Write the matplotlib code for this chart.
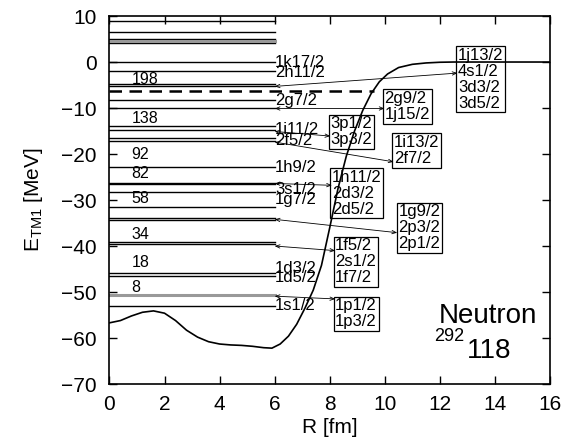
import numpy as np
import matplotlib
matplotlib.use("Agg")
from matplotlib import pyplot as plt

plt.rcParams['font.family'] = ['Liberation Sans', 'DejaVu Sans']
plt.rcParams['mathtext.fontset'] = 'custom'
plt.rcParams['mathtext.rm'] = 'Liberation Sans'
plt.rcParams['mathtext.it'] = 'Liberation Sans:italic'

# single-particle levels (MeV), drawn from R=0 to R=6
levels = [8.9, 6.5, 5.1, 4.1, 0.1, -1.9, -4.7, -5.2, -8.2, -9.9, -14.0, -14.7,
          -16.5, -17.1, -22.9, -26.2, -26.6, -28.2, -31.5, -33.8, -34.4,
          -39.2, -39.6, -45.8, -46.5, -53.0]
gray_levels = [4.6, -50.7]
fermi = -6.4

level_names = ['1k17/2', '2h11/2', '2g7/2', '1i11/2', '2f5/2', '1h9/2',
               '3s1/2', '1g7/2', '1d3/2', '1d5/2', '1s1/2']
level_name_E = [0.0, -2.2, -8.3, -14.6, -17.0, -22.9, -27.7, -29.8, -44.8, -46.8, -53.0]

magic = ['198', '138', '92', '82', '58', '34', '18', '8']
magic_E = [-3.8, -12.2, -20.0, -24.2, -29.6, -37.6, -43.5, -49.1]

# potential curve
R = [0, 0.4, 0.8, 1.2, 1.6, 2.0, 2.4, 2.8, 3.2, 3.6, 4.0, 4.4, 4.8, 5.2, 5.6,
     5.9, 6.2, 6.5, 6.8, 7.1, 7.4, 7.7, 8.0, 8.3, 8.6, 8.9, 9.2, 9.5, 9.8,
     10.1, 10.5, 11.0, 11.5, 12.0, 12.5, 16]
V = [-56.7, -56.2, -55.2, -54.4, -54.1, -54.6, -56.2, -58.3, -59.8, -60.8,
     -61.3, -61.5, -61.6, -61.8, -62.1, -62.2, -61.3, -59.6, -57.0, -53.5,
     -49.6, -44.2, -36.0, -27.5, -20.5, -15.0, -10.5, -6.9, -4.3, -2.6, -1.2,
     -0.5, -0.2, -0.05, 0, 0]

# boxes of unbound / resonant states
box_texts = ['1j13/2\n4s1/2\n3d3/2\n3d5/2', '2g9/2\n1j15/2', '3p1/2\n3p3/2',
             '1i13/2\n2f7/2', '1h11/2\n2d3/2\n2d5/2', '1g9/2\n2p3/2\n2p1/2',
             '1f5/2\n2s1/2\n1f7/2', '1p1/2\n1p3/2']
box_xy = [(12.66, 3.1), (9.99, -6.3), (8.02, -11.8), (10.32, -15.9),
          (8.08, -23.4), (10.5, -30.9), (8.2, -38.3), (8.2, -51.4)]

# arrows: level energy at R=6 -> point on box edge
arrow_from = [-5.3, -10.1, -15.1, -17.4, -26.4, -34.2, -40.0, -50.9]
arrow_to = [(12.64, -2.4), (9.99, -10.1), (8.02, -16.1), (10.32, -21.7),
            (8.08, -26.8), (10.45, -37.1), (8.2, -41.0), (8.2, -51.5)]

fig = plt.figure(figsize=(5.79, 4.45), dpi=100)
ax = fig.add_axes([0.189, 0.137, 0.761, 0.827])

for e in levels:
    ax.plot([0, 6], [e, e], color='black', lw=1.0)
for e in gray_levels:
    ax.plot([0, 6], [e, e], color='#999999', lw=2.2)
ax.plot([0, 9.6], [fermi, fermi], color='black', lw=1.8, dashes=(5, 3))

ax.plot(R, V, color='black', lw=1.2)

for name, e in zip(level_names, level_name_E):
    ax.text(6.02, e, name, fontsize=12, ha='left', va='center')
for name, e in zip(magic, magic_E):
    ax.text(0.8, e, name, fontsize=11.5, ha='left', va='center')

for t, (x, y) in zip(box_texts, box_xy):
    ax.text(x, y, t, fontsize=12, ha='left', va='top', linespacing=1.08,
            bbox=dict(boxstyle='square,pad=0.1', fc='none', ec='black', lw=0.9))

for e, (x, y) in zip(arrow_from, arrow_to):
    ax.annotate('', xy=(x, y), xytext=(6.0, e),
                arrowprops=dict(arrowstyle='<->,head_length=0.3,head_width=0.12',
                                color='black', lw=0.6, shrinkA=0, shrinkB=0))

ax.text(13.75, -55.2, 'Neutron', fontsize=20, ha='center', va='center')
ax.text(13.8, -62.8, '118', fontsize=20, ha='center', va='center')
ax.text(12.35, -59.7, '292', fontsize=13, ha='center', va='center')

ax.set_xlim(0, 16)
ax.set_ylim(-70, 10)
ax.set_xticks(range(0, 17, 2))
ax.set_yticks(range(-70, 11, 10))
ax.tick_params(direction='in', length=6, width=1, top=True, right=True,
               labelsize=15, pad=8)
ax.tick_params(axis='y', pad=9)
for s in ax.spines.values():
    s.set_linewidth(1.2)
ax.set_xlabel('R [fm]', fontsize=15, labelpad=3)
ax.set_ylabel(r'E$_{\rm TM1}$ [MeV]', fontsize=15, labelpad=12)

fig.savefig('out.png', dpi=100)
